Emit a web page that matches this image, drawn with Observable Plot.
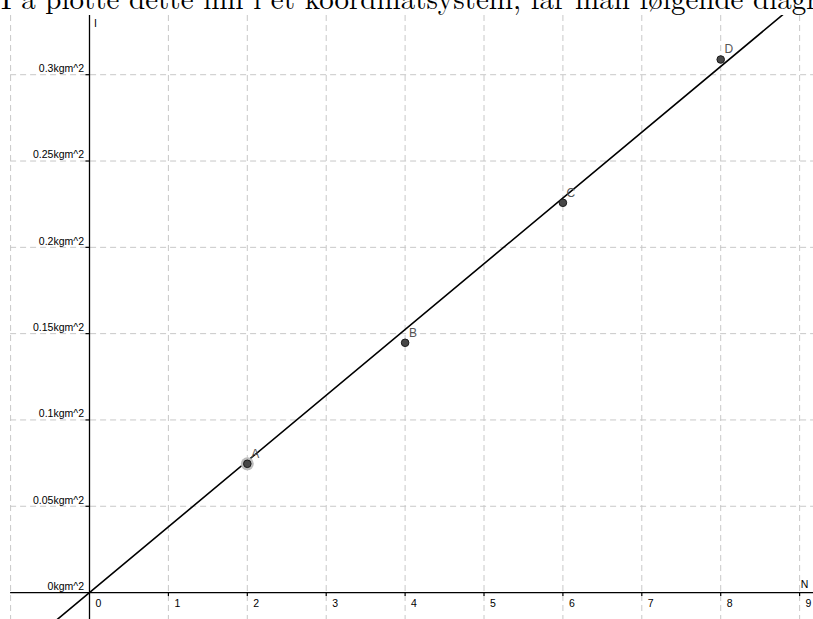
<!DOCTYPE html>
<html><head><meta charset="utf-8">
<script src="https://cdn.jsdelivr.net/npm/d3@7"></script>
<script src="https://cdn.jsdelivr.net/npm/@observablehq/plot@0.6"></script>
<style>
body{margin:0;background:#fff;}
#title{display:block;}
#chart svg{display:block;}
</style></head><body>
<svg id="title" width="813" height="15"><text x="1" y="9" font-family="'Latin Modern Roman','CMU Serif','Liberation Serif',serif" font-size="29" fill="#000">I å plotte dette inn i et koordinatsystem, får man følgende diagram</text></svg>
<div id="chart"></div>
<script>
// data
const pointN = [2, 4, 6, 8];
const pointI = [0.0746, 0.1447, 0.2258, 0.3088];
const pointLabels = ["A", "B", "C", "D"];
const xTicks = [0, 1, 2, 3, 4, 5, 6, 7, 8, 9];
const xGrid = [-1, 1, 2, 3, 4, 5, 6, 7, 8, 9];
const yTicks = [0, 0.05, 0.1, 0.15, 0.2, 0.25, 0.3];
const yTickLabels = ["0kgm^2", "0.05kgm^2", "0.1kgm^2", "0.15kgm^2", "0.2kgm^2", "0.25kgm^2", "0.3kgm^2"];
const fitSlope = 0.0381;
const fitIntercept = 0;
const xLabel = "N";
const yLabel = "I";

// layout
const W = 813, H = 604;
const xDom = [-1.128, 9.176], yDom = [-0.0156, 0.3343];
const pxY = H / (yDom[1] - yDom[0]);
const pxX = W / (xDom[1] - xDom[0]);

const points = pointN.map((n, i) => ({N: n, I: pointI[i], label: pointLabels[i]}));
const fit = xDom.map(n => ({N: n, I: fitSlope * n + fitIntercept}));
const yGrid = yTicks.filter(d => d !== 0);
const grid = {stroke: "#c8c8c8", strokeWidth: 1, strokeDasharray: "6,4"};

const chart = Plot.plot({
  width: W, height: H, margin: 0,
  x: {domain: xDom, axis: null},
  y: {domain: yDom, axis: null},
  style: {fontFamily: "'Liberation Sans', Arial, sans-serif", background: "#fff", color: "#000"},
  marks: [
    Plot.ruleX(xGrid, grid),
    Plot.ruleY(yGrid, {x1: -1, x2: xDom[1], ...grid}),
    Plot.ruleY([0], {x1: -1, x2: xDom[1], stroke: "#000", strokeWidth: 1.3}),
    Plot.ruleX([0], {stroke: "#000", strokeWidth: 1.3}),
    Plot.ruleX(xTicks.filter(d => d !== 0), {x: d => d, y1: 0, y2: -4 / pxY, stroke: "#000", strokeWidth: 1.2}),
    Plot.ruleY(yGrid, {y: d => d, x1: -3.5 / pxX, x2: 0, stroke: "#000", strokeWidth: 1.2}),
    Plot.line(fit, {x: "N", y: "I", stroke: "#000", strokeWidth: 1.6, clip: true}),
    Plot.dot(points.filter(d => d.label === "A"), {x: "N", y: "I", r: 6.5, fill: "#bdbdbd", stroke: "none"}),
    Plot.dot(points, {x: "N", y: "I", r: 3.8, fill: "#474747", stroke: "#1a1a1a", strokeWidth: 1}),
    Plot.text(points, {x: "N", y: "I", text: "label", dx: 8, dy: -10, fill: "#555", fontSize: 12}),
    Plot.text(xTicks, {x: d => d, y: 0, text: d => String(d), dx: 6, dy: 11, textAnchor: "start", fontSize: 10.5, fill: "#000"}),
    Plot.text(yTicks, {x: 0, y: d => d, text: (d, i) => yTickLabels[i], dx: -5.5, dy: -6, textAnchor: "end", fontSize: 10.5, fill: "#000"}),
    Plot.text([xLabel], {x: 9, y: 0, text: d => d, dx: 5, dy: -8, fontSize: 10.5, fill: "#000"}),
    Plot.text([yLabel], {x: 0, y: yDom[1], text: d => d, dx: 6, dy: 8, fontSize: 10.5, fill: "#000"})
  ]
});
document.getElementById("chart").append(chart);
</script>
</body></html>
